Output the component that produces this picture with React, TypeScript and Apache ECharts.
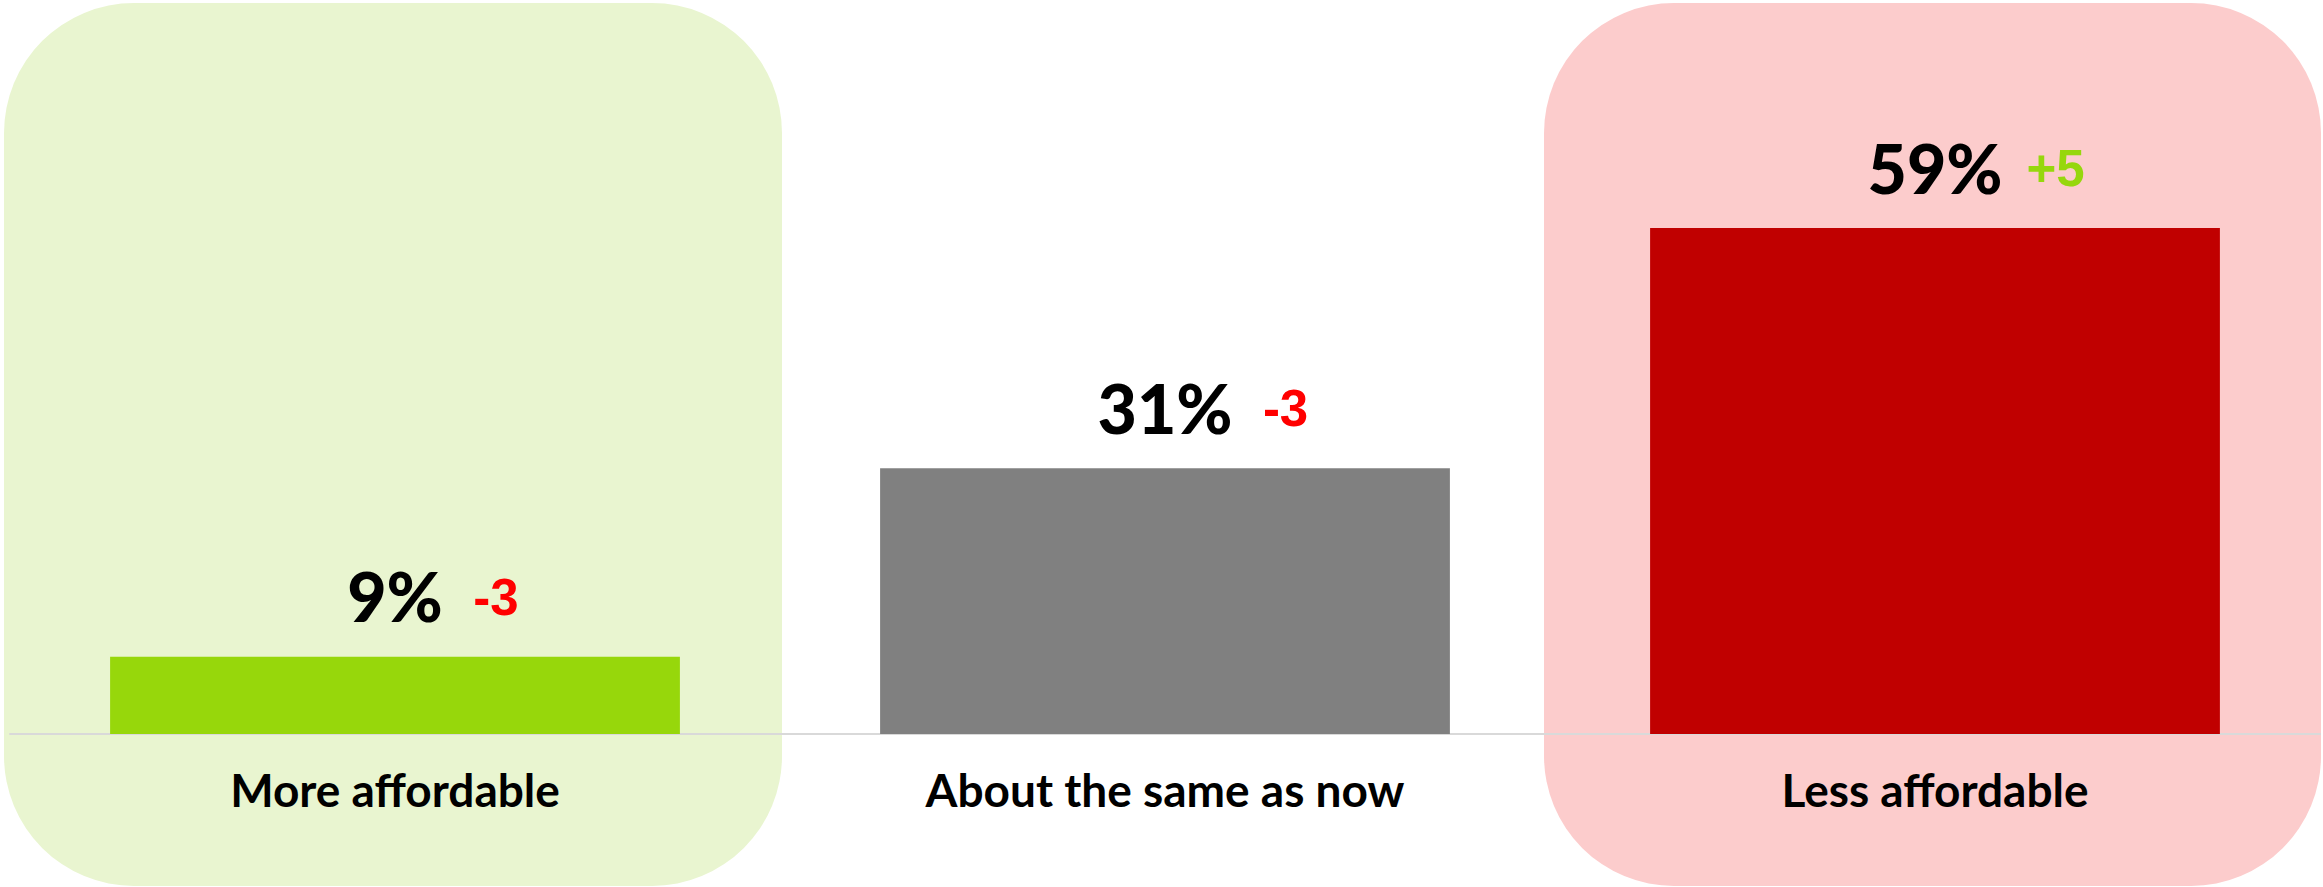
import React, { useEffect, useRef } from "react";
import * as echarts from "echarts";

const categories = ["More affordable", "About the same as now", "Less affordable"];
const values = [9, 31, 59];
const changes = ["-3", "-3", "+5"];
const barColors = ["#97D70B", "#808080", "#C00000"];
const changeColors = ["#FF0000", "#FF0000", "#96D70D"];

export default function App() {
  const ref = useRef<HTMLDivElement>(null);
  useEffect(() => {
    if (!ref.current) return;
    const chart = echarts.init(ref.current, undefined, { renderer: "svg" });
    const data = values.map((v, i) => ({
      value: v,
      itemStyle: { color: barColors[i] },
      label: {
        formatter: `{p| }{v|${v}%}{g| }{${changeColors[i] === "#FF0000" ? "dn" : "up"}|${changes[i]}}`,
      },
    }));
    const deltaStyle = {
      width: 60,
      align: "left",
      fontFamily: "Liberation Sans",
      fontWeight: "bold",
      fontSize: 51,
      lineHeight: 51,
      padding: [0, 0, 7, 0],
      verticalAlign: "bottom",
    };
    chart.setOption({
      animation: false,
      backgroundColor: "#ffffff",
      graphic: [
        {
          type: "rect",
          z: -10,
          shape: { x: 4, y: 3, width: 778, height: 883, r: 130 },
          style: { fill: "#E9F5D0" },
        },
        {
          type: "rect",
          z: -10,
          shape: { x: 1544, y: 3, width: 777, height: 883, r: 130 },
          style: { fill: "#FCCCCC" },
        },
      ],
      grid: { left: 10, right: 3, top: 48, bottom: 153, containLabel: false },
      xAxis: {
        type: "category",
        data: categories,
        axisLine: { show: true, lineStyle: { color: "#D9D9D9", width: 2 } },
        axisTick: { show: false },
        axisLabel: {
          color: "#000000",
          fontFamily: "Lato",
          fontWeight: "bold",
          fontSize: 46,
          lineHeight: 46,
          margin: 32,
          interval: 0,
        },
      },
      yAxis: {
        type: "value",
        min: 0,
        max: 80,
        show: false,
        splitLine: { show: false },
      },
      series: [
        {
          type: "bar",
          data,
          barWidth: "74%",
          z: 2,
          label: {
            show: true,
            position: "top",
            distance: 27,
            rich: {
              p: { width: 83, fontSize: 20 },
              v: {
                fontFamily: "Lato",
                fontWeight: 900,
                fontSize: 68,
                lineHeight: 67,
                color: "#000000",
                verticalAlign: "bottom",
              },
              g: { width: 23, fontSize: 20 },
              dn: { ...deltaStyle, color: changeColors[0] },
              up: { ...deltaStyle, color: changeColors[2] },
            },
          },
        },
      ],
    });
    return () => chart.dispose();
  }, []);
  return (
    <div
      ref={ref}
      style={{ position: "fixed", left: 0, top: 0, width: 2323, height: 887 }}
    />
  );
}
